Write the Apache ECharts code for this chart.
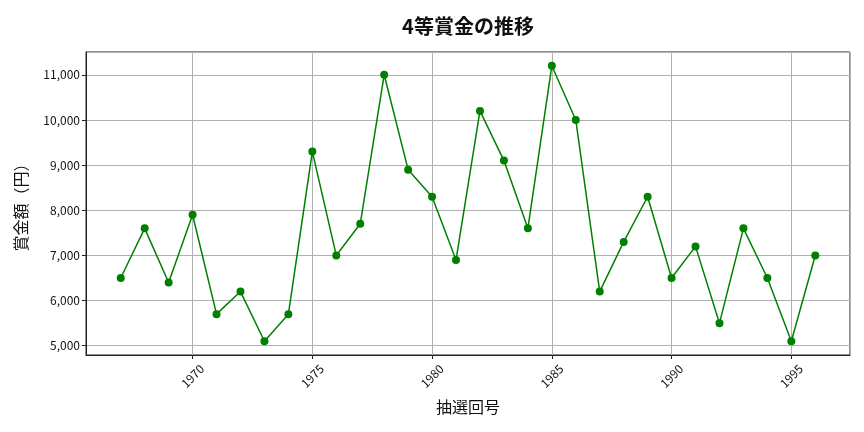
<!DOCTYPE html>
<html>
<head>
<meta charset="utf-8">
<script src="https://cdn.jsdelivr.net/npm/echarts@6/dist/echarts.min.js"></script>
<style>
  html, body { margin: 0; padding: 0; background: #fff; }
  #chart { width: 864px; height: 432px; }
</style>
</head>
<body>
<div id="chart"></div>
<script>
const years = [1967, 1968, 1969, 1970, 1971, 1972, 1973, 1974, 1975, 1976,
    1977, 1978, 1979, 1980, 1981, 1982, 1983, 1984, 1985, 1986,
    1987, 1988, 1989, 1990, 1991, 1992, 1993, 1994, 1995, 1996];
const prizes = [6500, 7600, 6400, 7900, 5700, 6200, 5100, 5700, 9300, 7000,
    7700, 11000, 8900, 8300, 6900, 10200, 9100, 7600, 11200, 10000,
    6200, 7300, 8300, 6500, 7200, 5500, 7600, 6500, 5100, 7000];

const font = '"Noto Sans CJK JP", "Noto Sans", sans-serif';

// matplotlib-style 5% margins around the data
const xPad = (years[years.length - 1] - years[0]) * 0.05;
const yMinV = Math.min(...prizes), yMaxV = Math.max(...prizes);
const yPad = (yMaxV - yMinV) * 0.05;

const chart = echarts.init(document.getElementById('chart'));
const option = {
    backgroundColor: '#fff',
    title: {
        text: '4等賞金の推移',
        left: 463,
        top: 11,
        textAlign: 'center',
        textStyle: { fontFamily: font, fontSize: 20, fontWeight: 'bold', color: '#111' }
    },
    grid: {
        left: 86, right: 14, top: 52, bottom: 77,
        show: true, borderColor: '#222', borderWidth: 1
    },
    xAxis: {
        type: 'value',
        min: years[0] - xPad,
        max: years[years.length - 1] + xPad,
        splitNumber: 6,
        name: '抽選回号',
        nameLocation: 'middle',
        nameGap: 44,
        nameTextStyle: { fontFamily: font, fontSize: 16, color: '#111' },
        axisLine: { lineStyle: { color: '#222' } },
        axisTick: { length: 4, lineStyle: { color: '#222' } },
        axisLabel: {
            rotate: 45,
            align: 'center',
            verticalAlign: 'middle',
            margin: 21,
            showMinLabel: false,
            showMaxLabel: false,
            fontFamily: font,
            fontSize: 12,
            color: '#111',
            formatter: v => (Math.abs(v - Math.round(v)) < 1e-6 && Math.round(v) % 5 === 0) ? String(Math.round(v)) : ''
        },
        splitLine: { show: true, lineStyle: { color: '#b0b0b0', width: 1 } }
    },
    yAxis: {
        type: 'value',
        min: yMinV - yPad,
        max: yMaxV + yPad,
        splitNumber: 6,
        name: '賞金額（円）',
        nameLocation: 'middle',
        nameGap: 57,
        nameTextStyle: { fontFamily: font, fontSize: 16, color: '#111' },
        axisLine: { show: true, lineStyle: { color: '#222' } },
        axisTick: { show: true, length: 4, lineStyle: { color: '#222' } },
        axisLabel: {
            margin: 6,
            showMinLabel: false,
            showMaxLabel: false,
            fontFamily: font,
            fontSize: 12,
            color: '#111',
            formatter: v => (Math.round(v) % 1000 === 0) ? Math.round(v).toLocaleString('en-US') : ''
        },
        splitLine: { show: true, lineStyle: { color: '#b0b0b0', width: 1 } }
    },
    series: [
        {
            type: 'line',
            data: years.map((y, i) => [y, prizes[i]]),
            symbol: 'circle',
            symbolSize: 8,
            itemStyle: { color: '#008000' },
            lineStyle: { color: '#008000', width: 1.5 },
            animation: false
        }
    ]
};
chart.setOption(option);
</script>
</body>
</html>
